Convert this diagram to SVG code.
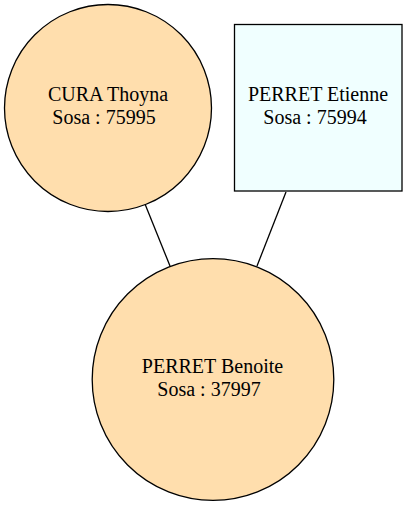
<svg xmlns="http://www.w3.org/2000/svg" width="408" height="506" viewBox="0 0 408 506">
<style>
.n{stroke:#000;stroke-width:1.3}
.f{fill:#ffdead}
.m{fill:#f0ffff}
.t{font-family:'Liberation Serif','Times New Roman','DejaVu Serif',serif;font-size:20px;fill:#000;text-anchor:middle}
.e{stroke:#000;stroke-width:1.3;fill:none}
</style>
<rect width="408" height="506" fill="#fff"/>
<g id="edges">
<line class="e" x1="145" y1="204" x2="170" y2="266"/>
<line class="e" x1="286" y1="192" x2="257" y2="266"/>
</g>
<g id="node1">
<circle class="n f" cx="108" cy="108" r="103.5"/>
<text class="t" font-family="Liberation Serif, serif" x="108" y="101">CURA Thoyna</text>
<text class="t" font-family="Liberation Serif, serif" x="104" y="124">Sosa : 75995</text>
</g>
<g id="node2">
<rect class="n m" x="234.5" y="24.5" width="167.5" height="166.5"/>
<text class="t" font-family="Liberation Serif, serif" x="318" y="101">PERRET Etienne</text>
<text class="t" font-family="Liberation Serif, serif" x="315" y="124">Sosa : 75994</text>
</g>
<g id="node3">
<circle class="n f" cx="213" cy="379.5" r="120.8"/>
<text class="t" font-family="Liberation Serif, serif" x="212.5" y="373">PERRET Benoite</text>
<text class="t" font-family="Liberation Serif, serif" x="209" y="396">Sosa : 37997</text>
</g>
</svg>
